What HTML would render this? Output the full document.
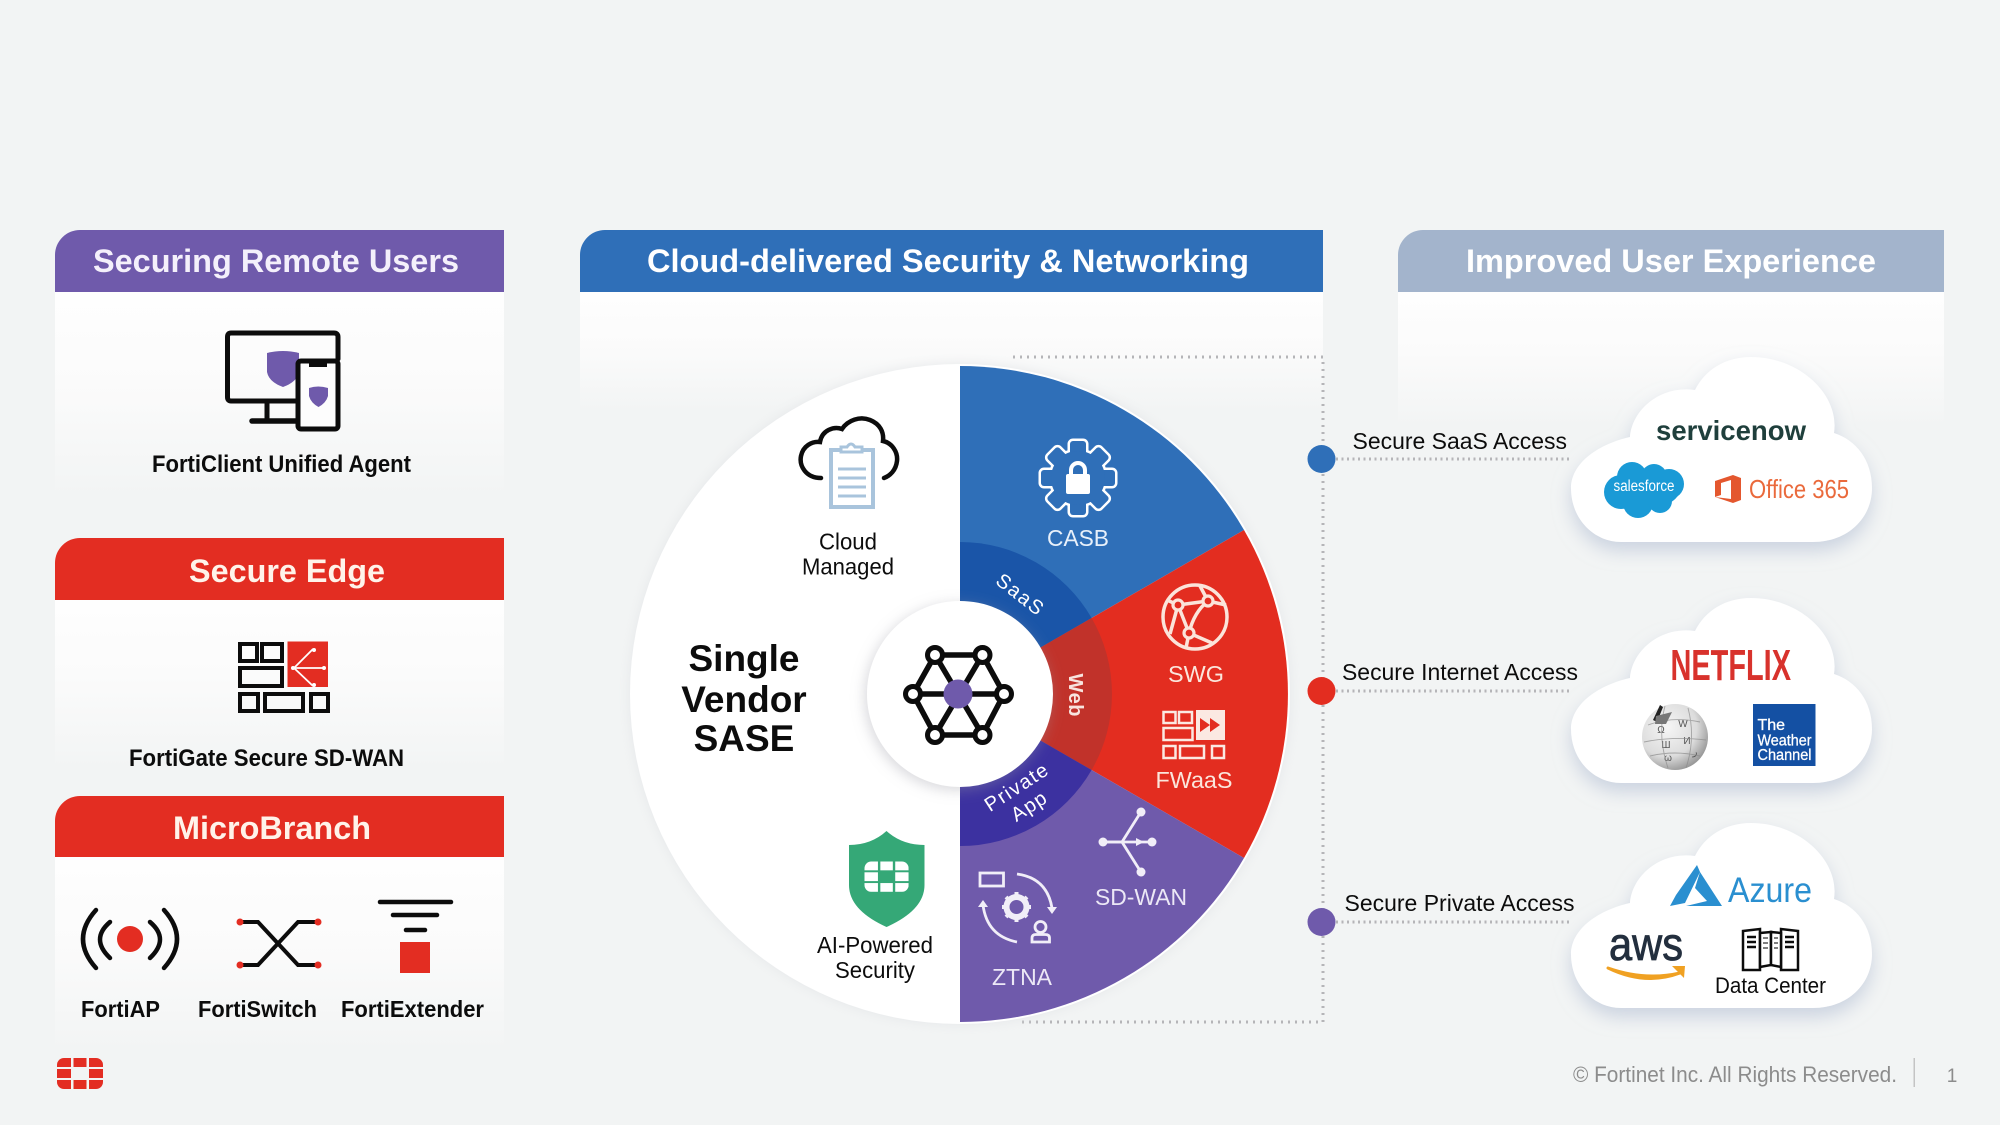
<!DOCTYPE html>
<html lang="en">
<head>
<meta charset="utf-8">
<title>Single Vendor SASE</title>
<style>
html,body{margin:0;padding:0;background:#f2f4f4;}
svg{display:block;width:2000px;height:1125px;}
text{font-family:"Liberation Sans",sans-serif;}
</style>
</head>
<body>
<svg xmlns="http://www.w3.org/2000/svg" width="2000" height="1125" viewBox="0 0 2000 1125">
<defs>
<linearGradient id="fade" x1="0" y1="0" x2="0" y2="1">
<stop offset="0" stop-color="#fefefe"/><stop offset="0.45" stop-color="#fbfbfb"/><stop offset="1" stop-color="#f2f4f4"/>
</linearGradient>
<filter id="cloudShadow" x="-20%" y="-20%" width="140%" height="150%">
<feDropShadow dx="0" dy="9" stdDeviation="9" flood-color="#aab8d0" flood-opacity="0.55"/>
</filter>
<filter id="coreShadow" x="-30%" y="-30%" width="160%" height="160%">
<feDropShadow dx="-2" dy="3" stdDeviation="7" flood-color="#9a9aa5" flood-opacity="0.4"/>
</filter>
<filter id="pieShadow" x="-10%" y="-10%" width="120%" height="120%">
<feDropShadow dx="0" dy="0" stdDeviation="6" flood-color="#e2e4e6" flood-opacity="0.8"/>
</filter>
<radialGradient id="globe" cx="0.38" cy="0.35" r="0.75">
<stop offset="0" stop-color="#f6f6f6"/><stop offset="0.6" stop-color="#dcdcdc"/><stop offset="1" stop-color="#858585"/>
</radialGradient>
<path id="cloud" d="M1621 542 H1813 C1848 542 1872 518 1872 488 C1872 460 1856 440 1834 433 C1840 395 1800 357 1751 357 C1725 357 1705 370 1695 390 C1660 385 1632 410 1630 437 C1595 445 1571 465 1571 488 C1571 520 1595 542 1621 542 Z"/>
<clipPath id="ftClip"><rect x="0" y="0" width="46" height="31" rx="7"/></clipPath>
<g id="ftnt" clip-path="url(#ftClip)">
<rect x="0" y="0" width="14" height="9"/><rect x="16.500" y="0" width="13" height="9"/><rect x="32" y="0" width="14" height="9"/>
<rect x="0" y="11" width="14" height="9"/><rect x="32" y="11" width="14" height="9"/>
<rect x="0" y="22" width="14" height="9"/><rect x="16.500" y="22" width="13" height="9"/><rect x="32" y="22" width="14" height="9"/>
</g>
<g id="tooth"><rect x="-8" y="-37" width="16" height="20" rx="3"/></g>
<g id="teeth">
<use href="#tooth"/><use href="#tooth" transform="rotate(45)"/><use href="#tooth" transform="rotate(90)"/><use href="#tooth" transform="rotate(135)"/>
<use href="#tooth" transform="rotate(180)"/><use href="#tooth" transform="rotate(225)"/><use href="#tooth" transform="rotate(270)"/><use href="#tooth" transform="rotate(315)"/>
<circle r="27"/>
</g>
</defs>

<rect width="2000" height="1125" fill="#f2f4f4"/>

<!-- panels -->
<rect x="55" y="292" width="449" height="206" fill="url(#fade)"/>
<rect x="55" y="600" width="449" height="170" fill="url(#fade)"/>
<rect x="55" y="857" width="449" height="195" fill="url(#fade)"/>
<rect x="580" y="292" width="743" height="120" fill="url(#fade)"/>
<rect x="1398" y="292" width="546" height="135" fill="url(#fade)"/>

<!-- headers -->
<path d="M55 292 V255 A25 25 0 0 1 80 230 H504 V292 Z" fill="#6f5aab"/>
<path d="M55 600 V563 A25 25 0 0 1 80 538 H504 V600 Z" fill="#e32d22"/>
<path d="M55 857 V821 A25 25 0 0 1 80 796 H504 V857 Z" fill="#e32d22"/>
<path d="M580 292 V255 A25 25 0 0 1 605 230 H1323 V292 Z" fill="#2f6fb8"/>
<path d="M1398 292 V255 A25 25 0 0 1 1423 230 H1944 V292 Z" fill="#a3b4cc"/>

<g fill="#fff" font-weight="700" font-size="32">
<text x="93" y="272" textLength="366" lengthAdjust="spacingAndGlyphs" fill="#f4f0fb">Securing Remote Users</text>
<text x="189" y="582" textLength="196" lengthAdjust="spacingAndGlyphs" fill="#fff3ea">Secure Edge</text>
<text x="173" y="839" textLength="198" lengthAdjust="spacingAndGlyphs" fill="#fff3ea">MicroBranch</text>
<text x="647" y="272" textLength="602" lengthAdjust="spacingAndGlyphs">Cloud-delivered Security &amp; Networking</text>
<text x="1466" y="272" textLength="410" lengthAdjust="spacingAndGlyphs">Improved User Experience</text>
</g>

<!-- FortiClient icon -->
<path d="M267 353 Q283 349 299 353 V372 Q297 382 283 387 Q269 382 267 372 Z" fill="#6f5aab"/>
<g fill="none" stroke="#0c0c0c" stroke-width="5" stroke-linejoin="round" stroke-linecap="round">
<path d="M297 401 H231 Q227.500 401 227.500 397 V337 Q227.500 333 231 333 H334 Q338 333 338 337 V359"/>
<path d="M267 401 V421"/><path d="M252 421 H297" stroke-width="5.500"/>
<rect x="298" y="361" width="40" height="68" rx="3" fill="#fdfdfd"/>
</g>
<rect x="309" y="361" width="18" height="6" fill="#0c0c0c"/>
<path d="M309 388 Q318 385 328 388 V396 Q326 403 318.500 407 Q311 403 309 396 Z" fill="#6f5aab"/>
<text x="152" y="472" font-size="24" font-weight="700" fill="#0c0c0c" textLength="259" lengthAdjust="spacingAndGlyphs">FortiClient Unified Agent</text>

<!-- FortiGate icon -->
<g fill="none" stroke="#0c0c0c" stroke-width="4">
<rect x="240" y="644" width="17" height="17"/><rect x="262" y="644" width="20" height="17"/>
<rect x="240" y="668" width="42" height="18"/>
<rect x="240" y="694" width="18" height="17"/><rect x="265" y="694" width="38" height="17"/><rect x="311" y="694" width="17" height="17"/>
</g>
<rect x="287.500" y="641.500" width="40.500" height="45.500" fill="#e32d22"/>
<g fill="none" stroke="#fff" stroke-width="1.800">
<path d="M294 668 H324"/><path d="M294 668 L313 649"/><path d="M294 668 L313 686"/>
</g>
<g fill="#fff"><circle cx="293" cy="668" r="2"/><circle cx="324" cy="668" r="2"/><circle cx="314" cy="650" r="2"/><circle cx="314" cy="685" r="2"/></g>
<text x="129" y="766" font-size="24" font-weight="700" fill="#0c0c0c" textLength="275" lengthAdjust="spacingAndGlyphs">FortiGate Secure SD-WAN</text>

<!-- FortiAP -->
<circle cx="130" cy="939" r="13" fill="#e32d22"/>
<g fill="none" stroke="#0c0c0c" stroke-width="4.500" stroke-linecap="round">
<path d="M96 910 Q70 939 96 968"/><path d="M110 922 Q90 939 110 958"/>
<path d="M164 910 Q190 939 164 968"/><path d="M150 922 Q170 939 150 958"/>
</g>
<text x="81" y="1017" font-size="23" font-weight="700" fill="#0c0c0c" textLength="79" lengthAdjust="spacingAndGlyphs">FortiAP</text>

<!-- FortiSwitch -->
<g fill="none" stroke="#0c0c0c" stroke-width="4">
<path d="M240 922 H258 L298 965 H318"/><path d="M240 965 H258 L298 922 H318"/>
</g>
<g fill="#e32d22"><circle cx="240" cy="922" r="3.500"/><circle cx="318" cy="922" r="3.500"/><circle cx="240" cy="965" r="3.500"/><circle cx="318" cy="965" r="3.500"/></g>
<text x="198" y="1017" font-size="23" font-weight="700" fill="#0c0c0c" textLength="119" lengthAdjust="spacingAndGlyphs">FortiSwitch</text>

<!-- FortiExtender -->
<g stroke="#0c0c0c" stroke-width="4.500" stroke-linecap="round">
<path d="M380 902 H451"/><path d="M393 915 H437"/><path d="M406 930 H425"/>
</g>
<rect x="400" y="942" width="30" height="31" fill="#e32d22"/>
<text x="341" y="1017" font-size="23" font-weight="700" fill="#0c0c0c" textLength="143" lengthAdjust="spacingAndGlyphs">FortiExtender</text>

<use href="#ftnt" x="57" y="1058" fill="#e32d22"/>

<!-- dotted frame -->
<g fill="none" stroke="#b5b5b8" stroke-width="3" stroke-dasharray="2 3.500">
<path d="M1013 357 H1323 V1022 H1017" stroke-dasharray="2 5"/>
<path d="M1336 459 H1572"/><path d="M1336 691 H1572"/><path d="M1336 922 H1572"/>
</g>

<!-- pie -->
<circle cx="960" cy="694" r="330" fill="#fff" filter="url(#pieShadow)"/>
<path d="M960 694 V366 A328 328 0 0 1 1244 530 Z" fill="#2f6fb8"/>
<path d="M960 694 L1244 530 A328 328 0 0 1 1244 858 Z" fill="#e32d20"/>
<path d="M960 694 L1244 858 A328 328 0 0 1 960 1022 Z" fill="#6f5aab"/>
<path d="M960 694 V542 A152 152 0 0 1 1091.600 618 Z" fill="#1a55a8"/>
<path d="M960 694 L1091.600 618 A152 152 0 0 1 1091.600 770 Z" fill="#c1322a"/>
<path d="M960 694 L1091.600 770 A152 152 0 0 1 960 846 Z" fill="#3c31a0"/>
<circle cx="960" cy="694" r="93" fill="#fff" filter="url(#coreShadow)"/>

<!-- hex icon -->
<g fill="none" stroke="#0c0c0c" stroke-width="5.500">
<path d="M935 655 H982.500 L1004 694 L982.500 735 H935 L913 694 Z"/>
<path d="M913 694 H1004"/><path d="M935 655 L982.500 735"/><path d="M982.500 655 L935 735"/>
</g>
<g fill="#fff" stroke="#0c0c0c" stroke-width="5">
<circle cx="935" cy="655" r="7.500"/><circle cx="982.500" cy="655" r="7.500"/><circle cx="1004" cy="694" r="7.500"/>
<circle cx="982.500" cy="735" r="7.500"/><circle cx="935" cy="735" r="7.500"/><circle cx="913" cy="694" r="7.500"/>
</g>
<circle cx="958" cy="694" r="14.500" fill="#6f5aab"/>

<!-- central labels -->
<g text-anchor="middle" fill="#0c0c0c" font-weight="700" font-size="37">
<text x="744" y="671">Single</text><text x="744" y="712">Vendor</text><text x="744" y="751">SASE</text>
</g>
<g text-anchor="middle" fill="#0c0c0c" font-size="23">
<text x="848" y="549.500" textLength="58" lengthAdjust="spacingAndGlyphs">Cloud</text>
<text x="848" y="574.500" textLength="92" lengthAdjust="spacingAndGlyphs">Managed</text>
<text x="875" y="953" textLength="116" lengthAdjust="spacingAndGlyphs">AI-Powered</text>
<text x="875" y="978" textLength="80" lengthAdjust="spacingAndGlyphs">Security</text>
</g>

<!-- Cloud managed icon -->
<path d="M821 478 C806 478 799 466 801 456 C803 446 812 441 820 442 C822 430 834 426 842 429 C848 420 860 416 870 420 C880 424 884 432 883 441 C892 443 898 452 897 461 C896 470 890 476 884 478" fill="none" stroke="#0c0c0c" stroke-width="4.500" stroke-linecap="round"/>
<rect x="831" y="450" width="42" height="57" fill="#fff" stroke="#a9c4dc" stroke-width="4"/>
<path d="M841 452 V447 H847 Q851 441 855 447 H862 V452 Z" fill="#fff" stroke="#a9c4dc" stroke-width="3"/>
<path d="M838 469 H866 M838 478 H866 M838 487 H866 M838 496 H866" stroke="#a9c4dc" stroke-width="3"/>

<!-- CASB gear -->
<g transform="translate(1078,478)">
<use href="#teeth" fill="none" stroke="#fff" stroke-width="5"/>
<use href="#teeth" fill="#2f6fb8"/>
<rect x="-12" y="-4" width="24" height="20" rx="2" fill="#fff"/>
<path d="M-7 -3 V-8 A7 7 0 0 1 7 -8 V-3" fill="none" stroke="#fff" stroke-width="4"/>
</g>

<!-- SWG globe -->
<g fill="none" stroke="#fbe4da" stroke-width="3.500">
<circle cx="1195" cy="617" r="32"/>
<path d="M1178 605 L1208 601"/><path d="M1178 605 L1189 633"/><path d="M1208 601 Q1194 612 1189 633"/>
<path d="M1178 605 L1167 600"/><path d="M1178 605 L1170 634"/><path d="M1208 601 L1226 605"/><path d="M1208 601 L1200 586"/><path d="M1189 633 L1186 648"/><path d="M1189 633 L1212 643"/>
</g>
<g fill="#e32d20" stroke="#fbe4da" stroke-width="3.200"><circle cx="1178" cy="605" r="5"/><circle cx="1208" cy="601" r="5"/><circle cx="1189" cy="633" r="5"/></g>

<!-- FWaaS icon -->
<g fill="none" stroke="#fbe9e2" stroke-width="2.500">
<rect x="1163.500" y="712" width="12" height="11"/><rect x="1179" y="712" width="13" height="11"/>
<rect x="1163.500" y="728" width="29" height="12"/>
<rect x="1163.500" y="746" width="12" height="12"/><rect x="1180" y="746" width="24" height="12"/><rect x="1212" y="746" width="12" height="12"/>
</g>
<rect x="1196" y="710" width="29" height="30" fill="#fbe9e2"/>
<path d="M1200 718 L1210 725 L1200 732 Z M1210 718 L1220 725 L1210 732 Z" fill="#e32d20"/>

<!-- SD-WAN icon -->
<g fill="none" stroke="#f1eef8" stroke-width="2.800">
<path d="M1106 842 H1148"/><path d="M1106 842 L1122 842 L1139 815"/><path d="M1122 842 L1139 869"/>
</g>
<g fill="#f1eef8">
<circle cx="1103" cy="842" r="4.500"/><circle cx="1152" cy="842" r="4.500"/><circle cx="1141" cy="812" r="4.500"/><circle cx="1141" cy="872" r="4.500"/>
<path d="M1144 842 L1136 838 V846 Z"/>
</g>

<!-- ZTNA icon -->
<rect x="980" y="873" width="23.500" height="13" fill="none" stroke="#f1eef8" stroke-width="2.800"/>
<g fill="none" stroke="#f1eef8" stroke-width="2.800">
<path d="M1017 874 Q1047 878 1052 908"/><path d="M983 905 Q987 936 1017 942"/>
</g>
<g fill="#f1eef8">
<path d="M1047 907 H1057 L1052 914 Z"/><path d="M978 907 H988 L983 900 Z"/>
</g>
<circle cx="1016.500" cy="907" r="10" fill="none" stroke="#f1eef8" stroke-width="6"/>
<g stroke="#f1eef8" stroke-width="4"><path d="M1016.500 892 V897 M1016.500 917 V922 M1002 907 H1007 M1026 907 H1031 M1006 897 L1009 900 M1024 914 L1027 917 M1006 917 L1009 914 M1024 900 L1027 897"/></g>
<circle cx="1040.500" cy="927" r="5.500" fill="none" stroke="#f1eef8" stroke-width="2.800"/>
<path d="M1032 942 V938 Q1032 934.500 1036 934.500 H1045 Q1049.500 934.500 1049.500 938 V942 Z" fill="none" stroke="#f1eef8" stroke-width="2.800"/>

<!-- Shield -->
<path d="M886.500 831 Q902 845 924.500 845 V885 Q924.500 910 886.500 927 Q849 910 849 885 V845 Q871 845 886.500 831 Z" fill="#35a877"/>
<g transform="translate(864.500,861.500)" fill="#fff"><g transform="scale(0.96,0.98)"><use href="#ftnt"/></g></g>

<!-- pie labels -->
<g text-anchor="middle" font-size="23">
<text x="1078" y="546" fill="#e8f0fa" textLength="62" lengthAdjust="spacingAndGlyphs">CASB</text>
<text x="1196" y="682" fill="#fbe6dc" textLength="56" lengthAdjust="spacingAndGlyphs">SWG</text>
<text x="1194" y="788" fill="#fbe6dc" textLength="77" lengthAdjust="spacingAndGlyphs">FWaaS</text>
<text x="1141" y="905" fill="#ece8f6" textLength="92" lengthAdjust="spacingAndGlyphs">SD-WAN</text>
<text x="1022" y="985" fill="#ece8f6" textLength="60" lengthAdjust="spacingAndGlyphs">ZTNA</text>
</g>
<g text-anchor="middle" font-size="20" fill="#fff">
<text transform="translate(1020,594) rotate(38)" y="7" textLength="54">SaaS</text>
<text transform="translate(1076,695) rotate(90)" y="7" font-weight="700" textLength="43" fill="#f8e4de">Web</text>
<text transform="translate(1016,787) rotate(-33)" y="7" textLength="71">Private</text>
<text transform="translate(1028.500,806) rotate(-33)" y="7" textLength="38">App</text>
</g>

<!-- connector dots -->
<circle cx="1321.500" cy="459" r="14" fill="#2f6fb8"/>
<circle cx="1321.500" cy="691" r="14" fill="#e32d20"/>
<circle cx="1321.500" cy="922" r="14" fill="#6f5aab"/>
<g font-size="23" fill="#0c0c0c">
<text x="1352.500" y="449" textLength="214.500" lengthAdjust="spacingAndGlyphs">Secure SaaS Access</text>
<text x="1342" y="680" textLength="236" lengthAdjust="spacingAndGlyphs">Secure Internet Access</text>
<text x="1344.500" y="911" textLength="230" lengthAdjust="spacingAndGlyphs">Secure Private Access</text>
</g>

<!-- clouds -->
<use href="#cloud" fill="#fff" filter="url(#cloudShadow)"/>
<use href="#cloud" y="241" fill="#fff" filter="url(#cloudShadow)"/>
<use href="#cloud" y="466" fill="#fff" filter="url(#cloudShadow)"/>

<!-- cloud 1 contents -->
<text x="1656" y="440" font-size="28" font-weight="700" fill="#1f3f3c" textLength="150" lengthAdjust="spacingAndGlyphs">servicenow</text>
<g fill="#1a9ad6">
<ellipse cx="1644" cy="489" rx="36" ry="20"/><circle cx="1632" cy="477" r="15"/><circle cx="1654" cy="477" r="13"/><circle cx="1669" cy="484" r="15"/>
<circle cx="1621" cy="492" r="17"/><circle cx="1638" cy="503" r="15"/><circle cx="1660" cy="501" r="12"/>
</g>
<text x="1644" y="491" text-anchor="middle" font-size="15.500" fill="#fff" textLength="61" lengthAdjust="spacingAndGlyphs">salesforce</text>
<path d="M1715 481 L1733 475 L1741 478 V500 L1733 503 L1715 497 L1731 499 V480 L1721 483 V495 L1715 497 Z" fill="#e4572e"/>
<text x="1749" y="498" font-size="26" fill="#ea6a3c" textLength="100" lengthAdjust="spacingAndGlyphs">Office 365</text>

<!-- cloud 2 contents -->
<text x="1670.500" y="680" font-size="44" font-weight="700" fill="#d8322c" textLength="120.500" lengthAdjust="spacingAndGlyphs">NETFLIX</text>
<circle cx="1675" cy="737" r="33" fill="url(#globe)"/>
<g fill="#555" font-size="10" font-family="'Liberation Serif',serif" text-anchor="middle">
<text x="1661" y="733">Ω</text><text x="1683" y="727">W</text><text x="1687" y="744">И</text><text x="1666" y="748">Ш</text><text x="1668" y="761">ω</text><text x="1695" y="755">ر</text>
</g>
<g fill="none" stroke="#8a8a8a" stroke-width="0.900" opacity="0.7">
<path d="M1648 725 Q1672 716 1700 722 M1644 742 Q1672 736 1706 740 M1650 756 Q1675 750 1700 756 M1665 706 Q1657 735 1668 768 M1688 708 Q1696 738 1686 768"/>
</g>
<path d="M1660 705 L1663 707 L1657 722 L1653 720 Z" fill="#222"/>
<path d="M1656 716 L1672 712 L1666 724 L1655 724 Z" fill="#777"/>
<rect x="1753" y="704" width="62.500" height="62" fill="#1450a3"/>
<g font-size="16" fill="#fff" stroke="#fff" stroke-width="0.300">
<text x="1757.500" y="730">The</text>
<text x="1757.500" y="745.500" textLength="54" lengthAdjust="spacingAndGlyphs">Weather</text>
<text x="1757.500" y="760" textLength="54" lengthAdjust="spacingAndGlyphs">Channel</text>
</g>

<!-- cloud 3 contents -->
<path d="M1697 865 L1676 895 L1670 906 L1685 903 L1700 872 Z M1700 872 L1722 906 L1686 906 L1707 901 L1695 888 Z" fill="#2a8fd0"/>
<text x="1728" y="902" font-size="35" fill="#2a8fd0" textLength="84" lengthAdjust="spacingAndGlyphs">Azure</text>
<text x="1609" y="960" font-size="46" fill="#232f3e" stroke="#232f3e" stroke-width="0.800" textLength="74" lengthAdjust="spacingAndGlyphs">aws</text>
<path d="M1608 968 Q1645 986 1680 973 Q1645 981 1608 968 Z" fill="#f0a122" stroke="#f0a122" stroke-width="3" stroke-linejoin="round"/>
<path d="M1672 966 L1685 966 L1684 978 Z" fill="#f0a122"/>
<g fill="#fff" stroke="#0c0c0c" stroke-width="2.500">
<path d="M1743 931 L1760 929 V970 H1743 Z"/><path d="M1798 931 L1781 929 V970 H1798 Z"/>
<path d="M1760 933 L1771 932 V965 L1760 967 Z"/><path d="M1771 932 L1781 933 V967 L1771 965 Z"/>
</g>
<g stroke="#0c0c0c" stroke-width="2.500">
<path d="M1747 937 H1756 M1747 942 H1756 M1747 947 H1756 M1785 937 H1794 M1785 942 H1794 M1785 947 H1794"/>
</g>
<g stroke="#555" stroke-width="1.500"><path d="M1763 938 H1768 M1763 943 H1768 M1763 948 H1768 M1774 938 H1778 M1774 943 H1778 M1774 948 H1778"/></g>
<text x="1715" y="993" font-size="22" fill="#0c0c0c" textLength="111" lengthAdjust="spacingAndGlyphs">Data Center</text>

<!-- footer -->
<text x="1573" y="1082" font-size="22" fill="#8c8c8c" textLength="324" lengthAdjust="spacingAndGlyphs">© Fortinet Inc. All Rights Reserved.</text>
<rect x="1913.500" y="1058" width="1.500" height="29" fill="#c4c4c4"/>
<text x="1952" y="1082" font-size="19" text-anchor="middle" fill="#8c8c8c">1</text>
</svg>
</body>
</html>
